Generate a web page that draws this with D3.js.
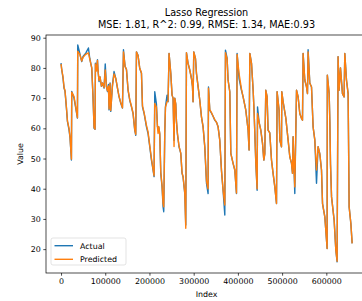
<!DOCTYPE html>
<html>
<head>
<meta charset="utf-8">
<script src="https://cdn.jsdelivr.net/npm/d3@7"></script>
<style>
  body { margin: 0; background: #fff; }
  svg { display: block; font-family: "DejaVu Sans", sans-serif; }
</style>
</head>
<body>
<svg class="chart"></svg>
<script>
/*
 * Lasso regression: actual vs predicted values along the row index.
 */

// Row index of each sampled point.
var indexValues = [
    0, 1600, 4500, 6800, 9000, 12200, 14500, 18100, 20400, 23500,
    24200, 29400, 33300, 37100, 37800, 42300, 46800, 49800, 55900, 62000,
    64900, 69500, 72400, 74700, 76900, 77800, 80100, 82400, 83700, 86000,
    88200, 91400, 93700, 97300, 100000, 102700, 105000, 107200, 108600, 110900,
    112400, 116300, 119900, 123800, 127600, 131200, 135100, 138900, 141200, 144800,
    148000, 151600, 155400, 159300, 162900, 166700, 169000, 170600, 174200, 178000,
    181900, 184200, 187800, 193200, 196800, 200700, 204500, 208100, 210400, 212000,
    215800, 218100, 219500, 221000, 223300, 225600, 228500, 230800, 232300, 234600,
    236200, 239800, 242100, 244300, 248200, 251100, 253400, 255600, 257200, 259500,
    261000, 263300, 266900, 270800, 273700, 276000, 279900, 282100, 283700, 287300,
    291200, 295000, 297300, 298600, 300200, 304100, 306300, 310000, 313800, 317600,
    321300, 325100, 329000, 332600, 333500, 336400, 340300, 343900, 347700, 351600,
    355200, 359000, 362900, 366500, 370400, 371900, 375600, 377800, 381700, 384000,
    389100, 393000, 396800, 398200, 402700, 408100, 411800, 417900, 423100, 425300,
    427000, 430800, 434500, 436800, 440600, 443500, 444400, 448000, 451800, 455700,
    458600, 460800, 463100, 466000, 468300, 472100, 476000, 479600, 483500, 487300,
    488700, 493200, 494800, 498600, 499300, 502300, 508400, 513600, 517400, 521300,
    523500, 524900, 527100, 528700, 532600, 536200, 540000, 543800, 546100, 547500,
    551300, 555200, 557400, 558800, 562600, 566500, 570100, 574000, 577800, 581400,
    585300, 589100, 591400, 596600, 601800, 602300, 606400, 608000, 609500, 611800,
    617700, 621500, 624400, 626600, 628800, 632000, 636500, 640200, 641800, 645600,
    649300, 651600, 655500, 658400
];

// Actual target values.
var actualValues = [
    81.6, 79.4, 76.6, 73.3, 72.3, 66.7, 62.3, 59.5, 56.8, 49.5,
    72.2, 70.0, 66.7, 63.4, 87.6, 84.9, 82.1, 83.8, 84.9, 86.6,
    83.2, 79.9, 70.0, 60.0, 59.7, 81.6, 79.4, 82.7, 79.0, 75.5,
    77.0, 73.9, 75.0, 73.3, 81.3, 73.8, 72.2, 74.5, 66.1, 75.0,
    65.6, 74.4, 78.8, 76.5, 73.3, 70.5, 68.3, 66.7, 86.0, 80.5,
    79.5, 72.6, 69.3, 67.1, 64.9, 59.4, 57.7, 85.3, 84.2, 79.8,
    78.2, 67.1, 65.0, 60.5, 58.3, 53.9, 49.5, 46.2, 44.0, 72.1,
    68.0, 60.5, 60.0, 60.5, 58.0, 45.1, 40.6, 34.0, 32.4, 58.3,
    67.1, 71.0, 68.8, 84.8, 78.2, 71.0, 70.0, 56.0, 70.0, 68.0,
    62.4, 58.0, 53.9, 51.7, 45.1, 43.9, 38.4, 28.0, 85.0, 81.5,
    79.3, 76.5, 73.8, 68.8, 85.3, 83.1, 78.2, 73.8, 69.3, 63.8,
    60.5, 53.9, 41.8, 38.4, 73.7, 66.0, 65.0, 64.0, 62.7, 62.0,
    60.5, 56.1, 46.0, 39.5, 31.3, 85.9, 83.2, 76.0, 72.1, 51.7,
    48.4, 46.2, 38.4, 84.8, 76.5, 72.6, 70.4, 66.0, 59.4, 52.8,
    84.8, 81.5, 72.6, 64.9, 48.4, 39.5, 67.1, 62.0, 59.4, 55.0,
    49.5, 51.5, 72.6, 70.5, 59.4, 58.5, 49.5, 45.1, 40.6, 35.1,
    72.1, 66.0, 56.1, 53.9, 72.1, 68.8, 63.4, 56.1, 50.6, 48.4,
    45.1, 57.2, 46.2, 38.4, 72.6, 70.4, 64.9, 63.3, 62.7, 84.8,
    76.0, 73.7, 71.5, 86.0, 75.0, 73.7, 60.5, 56.1, 41.8, 53.9,
    51.5, 46.2, 35.1, 30.7, 20.2, 77.6, 71.5, 62.0, 48.0, 37.3,
    29.6, 19.7, 15.8, 83.7, 72.6, 80.0, 71.5, 70.4, 84.8, 76.0,
    71.5, 34.0, 28.5, 21.9
];

// Model predictions.
var predictedValues = [
    81.3, 79.4, 77.0, 73.5, 72.5, 67.0, 62.5, 60.0, 57.0, 49.8,
    72.0, 70.5, 67.0, 63.5, 85.5, 84.5, 82.3, 83.5, 84.5, 85.0,
    83.0, 80.0, 70.3, 60.3, 59.7, 81.3, 79.0, 82.5, 79.0, 75.8,
    77.0, 74.0, 75.0, 73.5, 79.3, 73.8, 72.4, 74.0, 66.4, 74.8,
    65.9, 74.0, 78.0, 76.5, 73.5, 70.5, 68.5, 66.8, 85.3, 80.5,
    79.5, 72.8, 69.5, 67.3, 65.0, 59.6, 58.0, 85.3, 84.0, 80.0,
    78.3, 67.5, 65.2, 61.0, 58.8, 54.3, 50.0, 46.5, 44.3, 68.2,
    67.0, 60.5, 58.3, 60.5, 58.3, 45.5, 41.0, 35.0, 34.0, 58.5,
    67.0, 68.8, 69.0, 84.8, 78.2, 71.0, 70.0, 54.0, 70.0, 68.0,
    62.5, 58.3, 54.0, 51.8, 45.3, 44.0, 38.6, 26.9, 85.0, 81.5,
    79.3, 76.5, 73.8, 68.8, 85.3, 83.1, 78.2, 73.8, 69.3, 63.8,
    60.5, 53.9, 42.5, 40.0, 73.3, 66.2, 65.2, 64.0, 62.9, 62.0,
    60.5, 56.1, 46.0, 39.5, 34.6, 85.0, 83.0, 76.0, 72.1, 51.7,
    48.4, 46.2, 38.6, 84.5, 78.0, 73.0, 70.4, 66.0, 59.4, 52.8,
    84.8, 81.5, 72.6, 64.9, 48.4, 40.0, 64.9, 62.0, 59.4, 55.0,
    49.5, 51.5, 72.6, 70.5, 59.4, 58.5, 49.5, 45.1, 40.6, 35.1,
    72.1, 66.0, 56.1, 53.9, 72.1, 68.8, 63.4, 56.1, 50.6, 48.4,
    45.1, 57.2, 46.2, 40.6, 72.6, 70.4, 64.9, 63.3, 62.7, 84.8,
    76.0, 73.7, 71.5, 85.3, 75.0, 73.7, 60.5, 56.1, 46.2, 53.9,
    51.5, 46.2, 35.1, 30.7, 20.2, 77.6, 71.5, 62.0, 48.0, 37.3,
    29.6, 19.7, 16.0, 83.7, 72.6, 80.0, 71.5, 70.4, 84.8, 76.0,
    71.5, 34.0, 28.5, 21.9
];

var xTickValues = [0, 100000, 200000, 300000, 400000, 500000, 600000];
var yTickValues = [20, 30, 40, 50, 60, 70, 80, 90];
var seriesNames = ["Actual", "Predicted"];
var seriesColors = ["#1f77b4", "#ff7f0e"];

var titleLines = ["Lasso Regression", "MSE: 1.81, R^2: 0.99, RMSE: 1.34, MAE:0.93"];

/**
 * Draws the whole figure.
 */
function drawChart() {
    var width = 362, height = 301;
    // Plot area; the right spine lies just past the window edge.
    var plot = {left: 46, right: 367, top: 35, bottom: 273};

    var svg = d3.select(".chart")
        .attr("width", width)
        .attr("height", height);

    var x = d3.scaleLinear().domain([-34000, 692000]).range([plot.left, plot.right]);
    var y = d3.scaleLinear().domain([12.1, 90.9]).range([plot.bottom, plot.top]);

    var rows = indexValues.map(function(ix, i) {
        return {ix: ix, actual: actualValues[i], predicted: predictedValues[i]};
    });

    // Lines: actual first so the prediction sits on top.
    var keys = ["actual", "predicted"];
    keys.forEach(function(k, i) {
        var line = d3.line()
            .x(function(d) { return x(d.ix); })
            .y(function(d) { return y(d[k]); });
        svg.append("path")
            .datum(rows)
            .attr("fill", "none")
            .attr("stroke", seriesColors[i])
            .attr("stroke-width", 1.4)
            .attr("stroke-linejoin", "round")
            .attr("d", line);
    });

    // Axes.
    var xAxis = d3.axisBottom(x).tickValues(xTickValues).tickFormat(d3.format("d"))
        .tickSize(2.7).tickPadding(2.5);
    var yAxis = d3.axisLeft(y).tickValues(yTickValues).tickFormat(d3.format("d"))
        .tickSize(2.7).tickPadding(2.5);

    var gx = svg.append("g").attr("transform", "translate(0," + plot.bottom + ")").call(xAxis);
    var gy = svg.append("g").attr("transform", "translate(" + plot.left + ",0)").call(yAxis);
    [gx, gy].forEach(function(g) {
        g.select(".domain").remove();
        g.selectAll(".tick line").attr("stroke", "#000").attr("stroke-width", 0.7);
        g.selectAll(".tick text").attr("fill", "#000").style("font-size", "7.9px")
            .style("font-family", "DejaVu Sans");
    });

    // Spines.
    svg.append("rect")
        .attr("x", plot.left).attr("y", plot.top)
        .attr("width", plot.right - plot.left).attr("height", plot.bottom - plot.top)
        .attr("fill", "none").attr("stroke", "#000").attr("stroke-width", 0.7);

    // Titles and axis labels.
    svg.selectAll(".title").data(titleLines).enter().append("text")
        .attr("x", (plot.left + plot.right) / 2)
        .attr("y", function(d, i) { return 15.5 + i * 12.8; })
        .attr("text-anchor", "middle")
        .style("font-size", "9.7px")
        .text(function(d) { return d; });

    svg.append("text")
        .attr("x", (plot.left + plot.right) / 2).attr("y", 297)
        .attr("text-anchor", "middle").style("font-size", "7.9px")
        .text("Index");

    svg.append("text")
        .attr("transform", "translate(23," + (plot.top + plot.bottom) / 2 + ") rotate(-90)")
        .attr("text-anchor", "middle").style("font-size", "7.9px")
        .text("Value");

    // Legend.
    var lg = svg.append("g").attr("transform", "translate(51,238)");
    lg.append("rect")
        .attr("width", 75).attr("height", 27).attr("rx", 2)
        .attr("fill", "#fff").attr("fill-opacity", 0.8)
        .attr("stroke", "#d0d0d0").attr("stroke-width", 0.6);
    seriesNames.forEach(function(name, i) {
        var yy = 7.7 + i * 13.6;
        lg.append("line")
            .attr("x1", 3.5).attr("x2", 22).attr("y1", yy).attr("y2", yy)
            .attr("stroke", seriesColors[i]).attr("stroke-width", 1.4);
        lg.append("text")
            .attr("x", 29).attr("y", yy + 2.9)
            .style("font-size", "7.9px")
            .text(name);
    });
}

drawChart();
</script>
</body>
</html>
